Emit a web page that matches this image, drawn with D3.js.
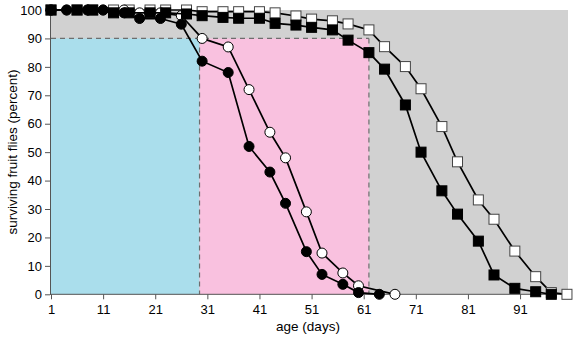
<!DOCTYPE html>
<html>
<head>
<meta charset="utf-8">
<script src="https://cdn.jsdelivr.net/npm/d3@7"></script>
<style>
  body { margin: 0; background: #fff; }
  svg { display: block; font-family: "Liberation Sans", Arial, Helvetica, sans-serif; }
</style>
</head>
<body>
<svg id="chart"></svg>
<script>
// Survival data (percent surviving)
const circleBlackDays = [1, 4, 8, 11, 15, 18, 22, 26, 30, 35, 39, 43, 46, 50, 53, 57, 60, 64];
const circleBlackVals = [100, 100, 100, 100, 99, 97, 97, 95, 82, 78, 52, 43, 32, 15, 7, 3.5, 0.6, 0];

const circleWhiteDays = [1, 4, 8, 11, 15, 18, 22, 26, 30, 35, 39, 43, 46, 50, 53, 57, 60, 67];
const circleWhiteVals = [100, 100, 100, 100, 100, 99, 99, 98, 90, 87, 72, 57, 48, 29, 14.5, 7.5, 3, 0];

const squareBlackDays = [1, 6, 9, 13, 16, 20, 23, 27, 30, 34, 37, 41, 44, 48, 51, 55, 58, 62, 65, 69, 72, 76, 79, 83, 86, 90, 94, 97];
const squareBlackVals = [100, 100, 100, 99, 99, 99, 99, 98.6, 98, 97.4, 97.1, 97.1, 95.3, 94.7, 93.9, 93, 89.4, 85, 79.2, 66.6, 50, 36.4, 28.2, 18.7, 6.8, 2.1, 0.9, 0];

const squareWhiteDays = [1, 6, 9, 13, 16, 20, 23, 27, 30, 34, 37, 41, 44, 48, 51, 55, 58, 62, 65, 69, 72, 76, 79, 83, 86, 90, 94, 97, 100];
const squareWhiteVals = [100, 100, 100, 100, 100, 100, 100, 100, 99.4, 99.4, 99.4, 99.4, 99, 97.9, 96.8, 96.2, 95.1, 93, 87.1, 80.1, 72.3, 59, 46.6, 33.2, 26.4, 15.2, 6.2, 0.6, 0];

// Shaded phases (days) and the 90% threshold
const blueEnd = 29.5;
const pinkEnd = 62;
const threshold = 90;

const xTicks = [1, 11, 21, 31, 41, 51, 61, 71, 81, 91];
const yTicks = [0, 10, 20, 30, 40, 50, 60, 70, 80, 90, 100];

const width = 576, height = 339;
const svg = d3.select('#chart').attr('width', width).attr('height', height);

const x = d3.scaleLinear().domain([1, 100.2]).range([51, 568]);
const y = d3.scaleLinear().domain([0, 100]).range([294.3, 10]);

// Background regions
svg.append('rect')
    .attr('x', x(1) - 1).attr('y', y(100))
    .attr('width', x(100.2) - x(1) + 1).attr('height', y(0) - y(100))
    .attr('fill', '#d1d1d1');

svg.append('rect')
    .attr('x', x(1) - 1).attr('y', y(threshold))
    .attr('width', x(blueEnd) - x(1) + 1).attr('height', y(0) - y(threshold))
    .attr('fill', '#aadeec');

svg.append('rect')
    .attr('x', x(blueEnd)).attr('y', y(threshold))
    .attr('width', x(pinkEnd) - x(blueEnd)).attr('height', y(0) - y(threshold))
    .attr('fill', '#f9c1df');

// Dashed guide lines
const dash = svg.append('g')
    .attr('stroke', '#6e6e6e')
    .attr('stroke-width', 1.2)
    .attr('stroke-dasharray', '5,4')
    .attr('fill', 'none');
dash.append('line')
    .attr('x1', x(1)).attr('x2', x(pinkEnd))
    .attr('y1', y(threshold)).attr('y2', y(threshold));
dash.append('line')
    .attr('x1', x(blueEnd)).attr('x2', x(blueEnd))
    .attr('y1', y(threshold)).attr('y2', y(0));
dash.append('line')
    .attr('x1', x(pinkEnd)).attr('x2', x(pinkEnd))
    .attr('y1', y(threshold)).attr('y2', y(0));

// Axes
const xAxis = svg.append('g')
    .attr('transform', `translate(0,${y(0)})`)
    .call(d3.axisBottom(x).tickValues(xTicks).tickSize(5).tickSizeOuter(0).tickFormat(d3.format('d')));
xAxis.select('.domain').attr('stroke', '#555').attr('d', `M${x(1) - 1},0H${x(100.2)}`);
xAxis.selectAll('.tick line').attr('stroke', '#555');
xAxis.selectAll('text').attr('font-size', 13).attr('fill', '#000').attr('dy', '0.9em');

const yAxis = svg.append('g')
    .attr('transform', `translate(${x(1) - 1},0)`)
    .call(d3.axisLeft(y).tickValues(yTicks).tickSize(5).tickSizeOuter(0));
yAxis.select('.domain').attr('stroke', '#555');
yAxis.selectAll('.tick line').attr('stroke', '#555');
yAxis.selectAll('text').attr('font-size', 13).attr('fill', '#000');

// Axis titles
svg.append('text')
    .attr('x', 308).attr('y', 331)
    .attr('text-anchor', 'middle')
    .attr('font-size', 13.5)
    .text('age (days)');

svg.append('text')
    .attr('transform', 'rotate(-90)')
    .attr('x', -152).attr('y', 17)
    .attr('text-anchor', 'middle')
    .attr('font-size', 13.5)
    .text('surviving fruit flies (percent)');

// Series
const line = d3.line().x(d => x(d[0])).y(d => y(d[1]));

function drawSeries(days, vals, shape, fill) {
    const pts = d3.zip(days, vals);
    svg.append('path')
        .datum(pts)
        .attr('d', line)
        .attr('fill', 'none')
        .attr('stroke', '#000')
        .attr('stroke-width', 1.7);
    const g = svg.append('g');
    if (shape === 'circle') {
        g.selectAll('circle')
            .data(pts)
            .enter()
            .append('circle')
            .attr('cx', d => x(d[0]))
            .attr('cy', d => y(d[1]))
            .attr('r', 5)
            .attr('fill', fill)
            .attr('stroke', '#000')
            .attr('stroke-width', 1);
    } else {
        g.selectAll('rect')
            .data(pts)
            .enter()
            .append('rect')
            .attr('x', d => x(d[0]) - 5)
            .attr('y', d => y(d[1]) - 5)
            .attr('width', 10)
            .attr('height', 10)
            .attr('fill', fill)
            .attr('stroke', fill === '#fff' ? '#444' : '#000')
            .attr('stroke-width', 1);
    }
}

drawSeries(squareWhiteDays, squareWhiteVals, 'square', '#fff');
drawSeries(circleWhiteDays, circleWhiteVals, 'circle', '#fff');
drawSeries(squareBlackDays, squareBlackVals, 'square', '#000');
drawSeries(circleBlackDays, circleBlackVals, 'circle', '#000');
</script>
</body>
</html>
